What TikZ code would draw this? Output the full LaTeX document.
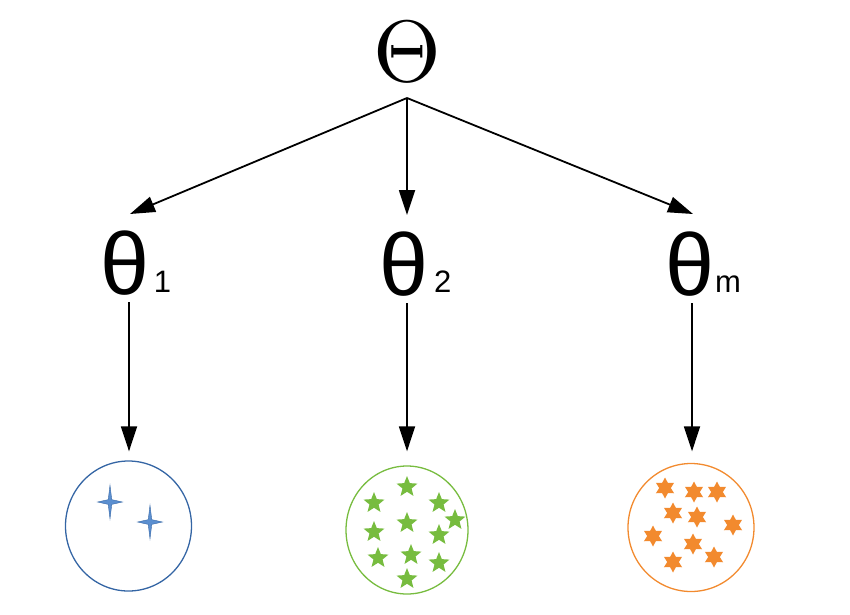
\documentclass[tikz,border=0pt]{standalone}
\usepackage{fontspec}
\usepackage{graphicx}
\setmainfont{Liberation Sans}
\usetikzlibrary{arrows.meta,shapes.geometric,calc}
\definecolor{skyblue}{HTML}{3465A4}
\definecolor{skyfill}{HTML}{5B8FD0}
\definecolor{leaf}{HTML}{77BC3F}
\definecolor{amber}{HTML}{F28A2E}
\begin{document}
\begin{tikzpicture}[x=1pt,y=-1pt,
  arr/.style={line width=1.8pt,-{Triangle[length=25pt,width=16pt]}},
  big/.style={inner sep=0pt,anchor=base,font=\fontsize{88}{88}\selectfont},
  sub/.style={inner sep=0pt,anchor=base west,font=\fontsize{31}{31}\selectfont},
  pool/.style={ellipse,draw,line width=1.3pt,inner sep=0pt},
  bstar/.style={star,star points=4,star point ratio=5,minimum size=25pt,
    inner sep=0pt,fill=skyfill,draw=skyblue,line width=0.4pt},
  gstar/.style={star,star points=5,star point ratio=2.3,minimum size=22pt,
    inner sep=0pt,fill=leaf},
  ostar/.style={star,star points=6,star point ratio=1.8,minimum size=21pt,
    inner sep=0pt,fill=amber}]
\useasboundingbox (0,0) rectangle (850,614);

% parameter nodes
\node[inner sep=0pt,anchor=base] (T) at (407.5,81) {\scalebox{8.7}{$\Theta$}};
\node[big] (t1) at (125,294) {θ};
\node[sub] (s1) at (153.6,292) {1};
\node[big] (t2) at (404,295) {θ};
\node[sub] (s2) at (434,292) {2};
\node[big] (tm) at (690,295) {θ};
\node[sub] (sm) at (715,292) {m};

% sample pools
\node[pool,draw=skyblue,minimum width=126pt,minimum height=130pt] (c1) at (128.5,526) {};
\node[pool,draw=leaf,minimum width=122pt,minimum height=128pt] (c2) at (407,530) {};
\node[pool,draw=amber,minimum width=126pt,minimum height=128pt] (c3) at (691,527.5) {};

% arrows from the hyperparameter down to each parameter
\coordinate (apex) at ($(T.base)+(-0.5,17)$);
\draw[arr] (apex) -- ($(t1.base)+(5,-80)$);
\draw[arr] (apex) -- ($(t2.base)+(3,-80)$);
\draw[arr] (apex) -- ($(tm.base)+(3,-81)$);

% arrows from each parameter to its samples
\draw[arr] ($(t1.base)+(4,8)$) -- ($(c1.north)+(0.5,-9)$);
\draw[arr] ($(t2.base)+(3,8)$) -- ($(c2.north)+(0,-14)$);
\draw[arr] ($(tm.base)+(2,8)$) -- ($(c3.north)+(1,-11.5)$);

% blue sparkles
\begin{scope}[shift={(110,502)},yscale=1.35,transform shape]
  \node[bstar] (b1) at (0,0) {};
\end{scope}
\begin{scope}[shift={(150,522)},yscale=1.35,transform shape]
  \node[bstar] (b2) at (0,0) {};
\end{scope}

% green stars
\foreach \p [count=\i] in {(407,487),(374,503),(439,503),(455,520),(407,523),
  (374,532),(439,535),(378,558),(411,555),(439,563),(407,579)}
  \node[gstar] (g\i) at \p {};

% orange stars
\foreach \p [count=\i] in {(665,488),(694,492),(717,492),(673,513),(697,517),
  (733,525),(653,536),(693,544),(714,557),(673,562)}
  \node[ostar] (o\i) at \p {};
\end{tikzpicture}
\end{document}
